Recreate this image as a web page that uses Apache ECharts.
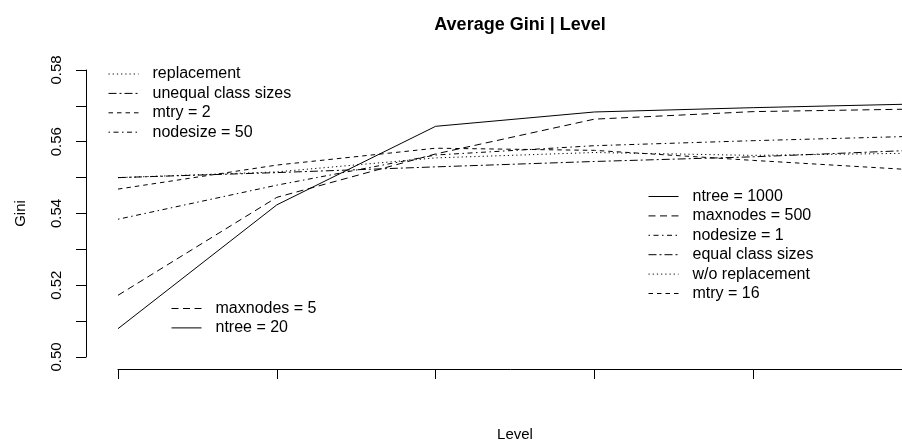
<!DOCTYPE html>
<html>
<head>
<meta charset="utf-8">
<script src="https://cdn.jsdelivr.net/npm/echarts@6/dist/echarts.min.js"></script>
<style>
    body { margin: 0; background: #fff; }
    #main { width: 902px; height: 446px; }
</style>
</head>
<body>
<div id="main"></div>
<script>
    // level on x, average gini on y
    var levels = [1, 2, 3, 4, 5, 6];
    var ntree = [0.5079, 0.5424, 0.5643, 0.5683, 0.5695, 0.5705];
    var maxnodes = [0.5172, 0.5445, 0.5566, 0.5663, 0.5684, 0.5691];
    var nodesize = [0.5384, 0.5479, 0.5563, 0.5589, 0.5603, 0.5615];
    var classSizes = [0.5500, 0.5514, 0.5530, 0.5545, 0.5558, 0.5576];
    var replacement = [0.5500, 0.5516, 0.5555, 0.5570, 0.5562, 0.5568];
    var mtry = [0.5468, 0.5535, 0.5582, 0.5576, 0.5548, 0.5522];

    var yTicks = [0.50, 0.52, 0.54, 0.56, 0.58];

    // start label (left legends) and end label (right legend) of each line
    var startNames = ['ntree = 20', 'maxnodes = 5', 'nodesize = 50', 'unequal class sizes', 'replacement', 'mtry = 2'];
    var endNames = ['ntree = 1000', 'maxnodes = 500', 'nodesize = 1', 'equal class sizes', 'w/o replacement', 'mtry = 16'];
    var values = [ntree, maxnodes, nodesize, classSizes, replacement, mtry];
    var dashes = ['solid', [7, 4.5], [1.5, 3.5, 5, 3.5], [8, 3, 2, 3], [1.2, 3], [4.5, 4]];

    var font = 'Liberation Sans, Arial, sans-serif';

    var series = [];
    for (var i = 0; i < values.length; i++) {
        series.push({
            name: endNames[i],
            type: 'line',
            symbol: 'none',
            silent: true,
            data: levels.map(function (l, k) { return [l, values[i][k]]; }),
            itemStyle: { color: '#000' },
            lineStyle: { color: '#000', width: 1, type: dashes[i] }
        });
    }
    // empty series so the left legends can show the start labels
    for (var j = 0; j < startNames.length; j++) {
        series.push({
            name: startNames[j],
            type: 'line',
            symbol: 'none',
            data: [],
            itemStyle: { color: '#000' },
            lineStyle: { color: '#000', width: 1, type: dashes[j] }
        });
    }

    function legendBox(names, left, top) {
        return {
            data: names,
            orient: 'vertical',
            left: left,
            top: top,
            padding: 0,
            itemWidth: 30,
            itemHeight: 14,
            itemGap: 3.4,
            selectedMode: false,
            itemStyle: { opacity: 0, color: 'rgba(0,0,0,0)', borderWidth: 0 },
            lineStyle: { width: 1 },
            textStyle: { fontFamily: font, fontSize: 16, color: '#000', padding: [0, 0, 0, 9] }
        };
    }

    var chart = echarts.init(document.getElementById('main'));
    var option = {
        animation: false,
        backgroundColor: '#fff',
        title: {
            text: 'Average Gini | Level',
            left: 515,
            top: 11,
            textAlign: 'center',
            textStyle: { fontFamily: font, fontSize: 18, fontWeight: 'bold', color: '#000' }
        },
        legend: [
            legendBox(['replacement', 'unequal class sizes', 'mtry = 2', 'nodesize = 50'], 108, 66),
            legendBox(['maxnodes = 5', 'ntree = 20'], 171, 300.5),
            legendBox(endNames, 648, 188.5)
        ],
        grid: { left: 118, right: -10, top: 70, bottom: 89, containLabel: false, outerBoundsMode: 'none' },
        xAxis: {
            type: 'value',
            min: 1,
            max: 6,
            interval: 1,
            offset: 12,
            name: 'Level',
            nameLocation: 'middle',
            nameGap: 58,
            nameTextStyle: { fontFamily: font, fontSize: 15, color: '#000' },
            axisLine: { lineStyle: { color: '#000', width: 1 } },
            axisTick: { length: 10, lineStyle: { color: '#000' } },
            axisLabel: { show: false },
            splitLine: { show: false }
        },
        yAxis: {
            type: 'value',
            min: 0.50,
            max: 0.58,
            interval: 0.01,
            offset: 32,
            name: 'Gini',
            nameLocation: 'middle',
            nameGap: 58,
            nameTextStyle: { fontFamily: font, fontSize: 15, color: '#000' },
            axisLine: { show: true, lineStyle: { color: '#000', width: 1 } },
            axisTick: { show: true, length: 10, lineStyle: { color: '#000' } },
            axisLabel: {
                rotate: 90,
                margin: 22,
                fontFamily: font,
                fontSize: 15,
                color: '#000',
                formatter: function (v) {
                    for (var t = 0; t < yTicks.length; t++) {
                        if (Math.abs(v - yTicks[t]) < 1e-6) return yTicks[t].toFixed(2);
                    }
                    return '';
                }
            },
            splitLine: { show: false }
        },
        series: series
    };
    chart.setOption(option);
</script>
</body>
</html>
